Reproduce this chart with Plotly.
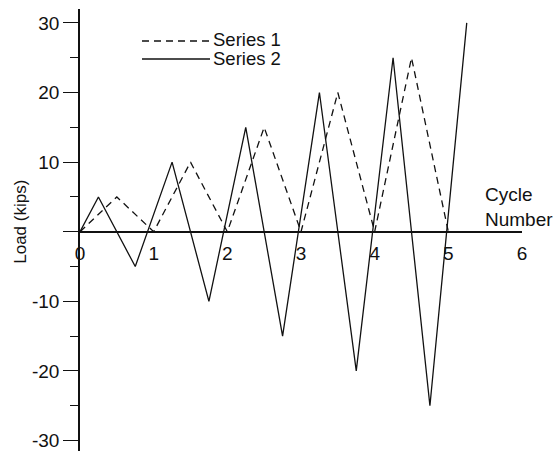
import plotly.graph_objects as go

# Cycle number (x) and load in kips (y) for the two loading protocols
s1_cycle = [0, 0.5, 1, 1.5, 2, 2.5, 3, 3.5, 4, 4.5, 5]
s1_load = [0, 5, 0, 10, 0, 15, 0, 20, 0, 25, 0]

s2_cycle = [0, 0.25, 0.75, 1.25, 1.75, 2.25, 2.75, 3.25, 3.75, 4.25, 4.75, 5.25]
s2_load = [0, 5, -5, 10, -10, 15, -15, 20, -20, 25, -25, 30]

x_ticks = [0, 1, 2, 3, 4, 5, 6]
y_major = [-30, -20, -10, 0, 10, 20, 30]
y_major_text = ["-30", "-20", "-10", "", "10", "20", "30"]

FONT = "Liberation Sans, Arial, sans-serif"
INK = "#111111"
W, H = 556, 451
ML, MR, MT, MB = 80, 34, 9, 0
YMIN, YMAX = -31.5, 32.0

fig = go.Figure()
fig.add_trace(go.Scatter(x=s1_cycle, y=s1_load, mode="lines", name="Series 1",
                         line=dict(color=INK, width=1.3, dash="7px,5px")))
fig.add_trace(go.Scatter(x=s2_cycle, y=s2_load, mode="lines", name="Series 2",
                         line=dict(color=INK, width=1.3)))

# x axis crosses the y axis at zero load
x_pos = (0 - YMIN) / (YMAX - YMIN)

fig.update_layout(
    width=W, height=H,
    margin=dict(l=ML, r=MR, t=MT, b=MB),
    paper_bgcolor="white", plot_bgcolor="white",
    showlegend=False,
    font=dict(family=FONT, size=19, color=INK),
    xaxis=dict(range=[0, 6], tickvals=x_ticks, showgrid=False, zeroline=False,
               showline=True, linecolor=INK, linewidth=1.5,
               anchor="free", position=x_pos,
               ticks="outside", ticklen=5, tickcolor="rgba(0,0,0,0)",
               ticklabeloverflow="allow",
               tickfont=dict(size=19, family=FONT, color=INK)),
    yaxis=dict(range=[YMIN, YMAX], tickvals=y_major, ticktext=y_major_text,
               showgrid=False, zeroline=False,
               showline=True, linecolor=INK, linewidth=1.5,
               ticks="outside", ticklen=15, tickwidth=1.3, tickcolor=INK,
               ticklabeloverflow="allow",
               tickfont=dict(size=19, family=FONT, color=INK),
               minor=dict(tickvals=[-25, -15, -5, 5, 15, 25], ticks="outside",
                          ticklen=8, tickwidth=1.3, tickcolor=INK)),
)

fig.add_annotation(text="Load (kips)", xref="paper", yref="y", x=0, y=0,
                   xshift=-59, yshift=10, textangle=-90, showarrow=False,
                   xanchor="center", yanchor="middle",
                   font=dict(size=17, family=FONT, color=INK))

plot_w = W - ML - MR
plot_h = H - MT - MB


def px_x(px):
    return (px - ML) / plot_w


def px_y(py):
    return (H - MB - py) / plot_h


fig.add_annotation(text="Cycle<br>Number", xref="paper", yref="paper",
                   x=px_x(483), y=px_y(207), showarrow=False,
                   xanchor="left", yanchor="middle", align="left",
                   font=dict(size=19, family=FONT, color=INK))

# legend drawn as line samples with labels
legend_rows = [("Series 1", "7px,5px", 41), ("Series 2", "solid", 59)]
for label, dash, py in legend_rows:
    fig.add_shape(type="line", xref="paper", yref="paper",
                  x0=px_x(142), x1=px_x(210), y0=px_y(py), y1=px_y(py),
                  line=dict(color=INK, width=1.3, dash=dash))
    fig.add_annotation(text=label, xref="paper", yref="paper",
                       x=px_x(211), y=px_y(py - 1), showarrow=False,
                       xanchor="left", yanchor="middle",
                       font=dict(size=18.5, family=FONT, color=INK))

fig.write_html("out.html")
